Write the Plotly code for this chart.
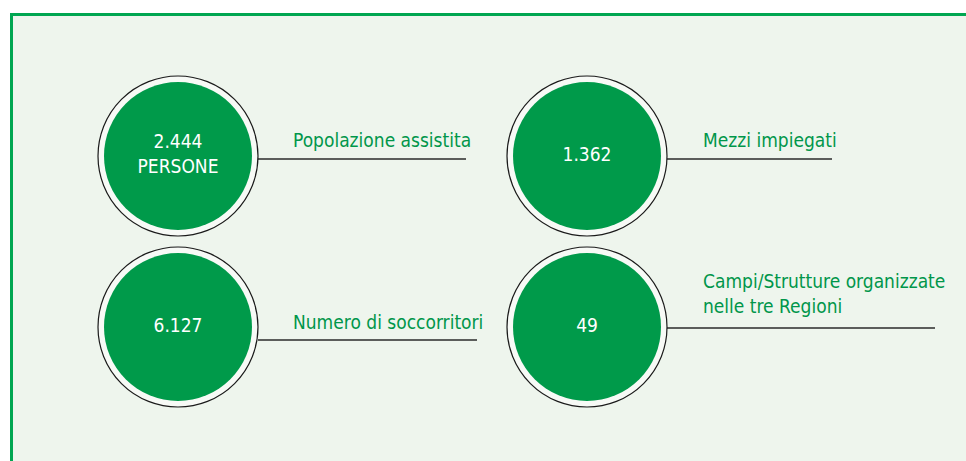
import plotly.graph_objects as go

# ---- data ----
values = ["2.444<br>PERSONE", "1.362", "6.127", "49"]
labels = ["Popolazione assistita", "Mezzi impiegati", "Numero di soccorritori",
          "Campi/Strutture organizzate<br>nelle tre Regioni"]

# ---- layout (pixel coordinates of the window) ----
W, H = 966, 461
centers = [(178, 156), (587, 156), (178, 327), (587, 327)]
line_y = [159, 159, 340, 328]
line_end = [466, 832, 477, 935]
label_x = [291, 701, 291, 701]
label_y = [140, 140, 322, 293]
R_OUT, R_IN = 80, 74

GREEN = "#009A4A"
TEXT_GREEN = "#00964A"
FONT = "DejaVu Sans Condensed, Roboto, sans-serif"

fig = go.Figure()
shapes = []
shapes.append(dict(type="rect", xref="x", yref="y", x0=11.5, x1=1000, y0=14.5, y1=520,
                   line=dict(color="#00A651", width=3), fillcolor="#EEF5ED", layer="below"))
for (cx, cy), ly, le in zip(centers, line_y, line_end):
    shapes.append(dict(type="line", xref="x", yref="y", x0=cx + R_OUT, x1=le, y0=ly, y1=ly,
                       line=dict(color="#2a2a2a", width=1.3), layer="below"))
    shapes.append(dict(type="circle", xref="x", yref="y", x0=cx - R_OUT, x1=cx + R_OUT,
                       y0=cy - R_OUT, y1=cy + R_OUT, fillcolor="#F7FAF6",
                       line=dict(color="#1a1a1a", width=1.2), layer="below"))
    shapes.append(dict(type="circle", xref="x", yref="y", x0=cx - R_IN, x1=cx + R_IN,
                       y0=cy - R_IN, y1=cy + R_IN, fillcolor=GREEN, line=dict(width=0),
                       layer="below"))

fig.add_trace(go.Scatter(
    x=[c[0] for c in centers], y=[c[1] for c in centers], mode="text",
    text=values, textposition="middle center",
    textfont=dict(family=FONT, size=19, color="white"), hoverinfo="skip", showlegend=False))

annotations = []
for lx, ly, lab in zip(label_x, label_y, labels):
    annotations.append(dict(x=lx, y=ly, xref="x", yref="y", text=lab, showarrow=False,
                            xanchor="left", yanchor="middle", align="left",
                            font=dict(family=FONT, size=19, color=TEXT_GREEN)))

fig.update_layout(
    width=W, height=H, margin=dict(l=0, r=0, t=0, b=0),
    paper_bgcolor="white", plot_bgcolor="white",
    xaxis=dict(range=[0, W], visible=False, fixedrange=True),
    yaxis=dict(range=[H, 0], visible=False, fixedrange=True),
    shapes=shapes, annotations=annotations, showlegend=False, hovermode=False,
)
fig.write_html("out.html", config={"displayModeBar": False, "staticPlot": True},
               post_script="document.body.style.margin='0';document.body.style.overflow='hidden';")
